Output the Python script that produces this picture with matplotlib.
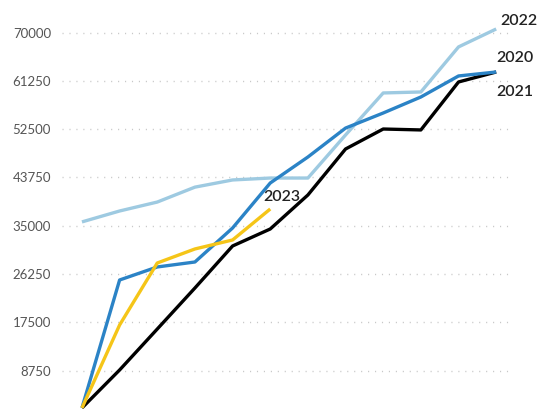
import matplotlib.pyplot as plt

months = list(range(12))
y2020 = [2000, 25180, 27540, 28440, 34600, 42750, 47460, 52700, 55430, 58330, 62140, 62860]
y2021 = [2000, 8880, 16300, 23730, 31340, 34420, 40580, 48910, 52530, 52360, 61050, 62860]
y2022 = [35700, 37680, 39300, 42000, 43300, 43650, 43650, 51450, 59060, 59240, 67400, 70650]
y2023 = [2000, 17030, 28260, 30800, 32430, 38040]
yticks = [8750, 17500, 26250, 35000, 43750, 52500, 61250, 70000]

plt.rcParams["font.family"] = ["Lato", "DejaVu Sans"]

fig = plt.figure(figsize=(5.45, 4.09), dpi=100)
ax = fig.add_axes([62 / 545, 0.0, 450 / 545, 1.0])

ax.plot(months, y2022, color="#9ecae1", linewidth=2.4, solid_capstyle="butt")
ax.plot(months, y2021, color="#000000", linewidth=2.4, solid_capstyle="butt")
ax.plot(months, y2020, color="#2b83c6", linewidth=2.4, solid_capstyle="butt")
ax.plot(months[:len(y2023)], y2023, color="#f5c518", linewidth=2.4, solid_capstyle="butt")

label_style = dict(fontsize=11.5, color="#222222", fontweight="semibold",
                   textcoords="offset points", annotation_clip=False)
ax.annotate("2022", (months[-1], y2022[-1]), xytext=(3, 3), **label_style)
ax.annotate("2020", (months[-1], y2020[-1]), xytext=(0, 7), **label_style)
ax.annotate("2021", (months[-1], y2021[-1]), xytext=(0, -17), **label_style)
ax.annotate("2023", (months[len(y2023) - 1], y2023[-1]), xytext=(-5, 6), **label_style)

ax.set_xlim(-0.53, 11.42)
ax.set_ylim(1810, 75900)
ax.set_yticks(yticks)
ax.set_yticklabels([str(v) for v in yticks])
ax.set_xticks([])
ax.grid(axis="y", color="#c8c8c8", linestyle=(0, (0.8, 4.2)), linewidth=1.0)
ax.tick_params(axis="y", length=0, pad=8, labelsize=9.5, labelcolor="#555555")
for s in ax.spines.values():
    s.set_visible(False)

fig.savefig("out.png", dpi=100)
